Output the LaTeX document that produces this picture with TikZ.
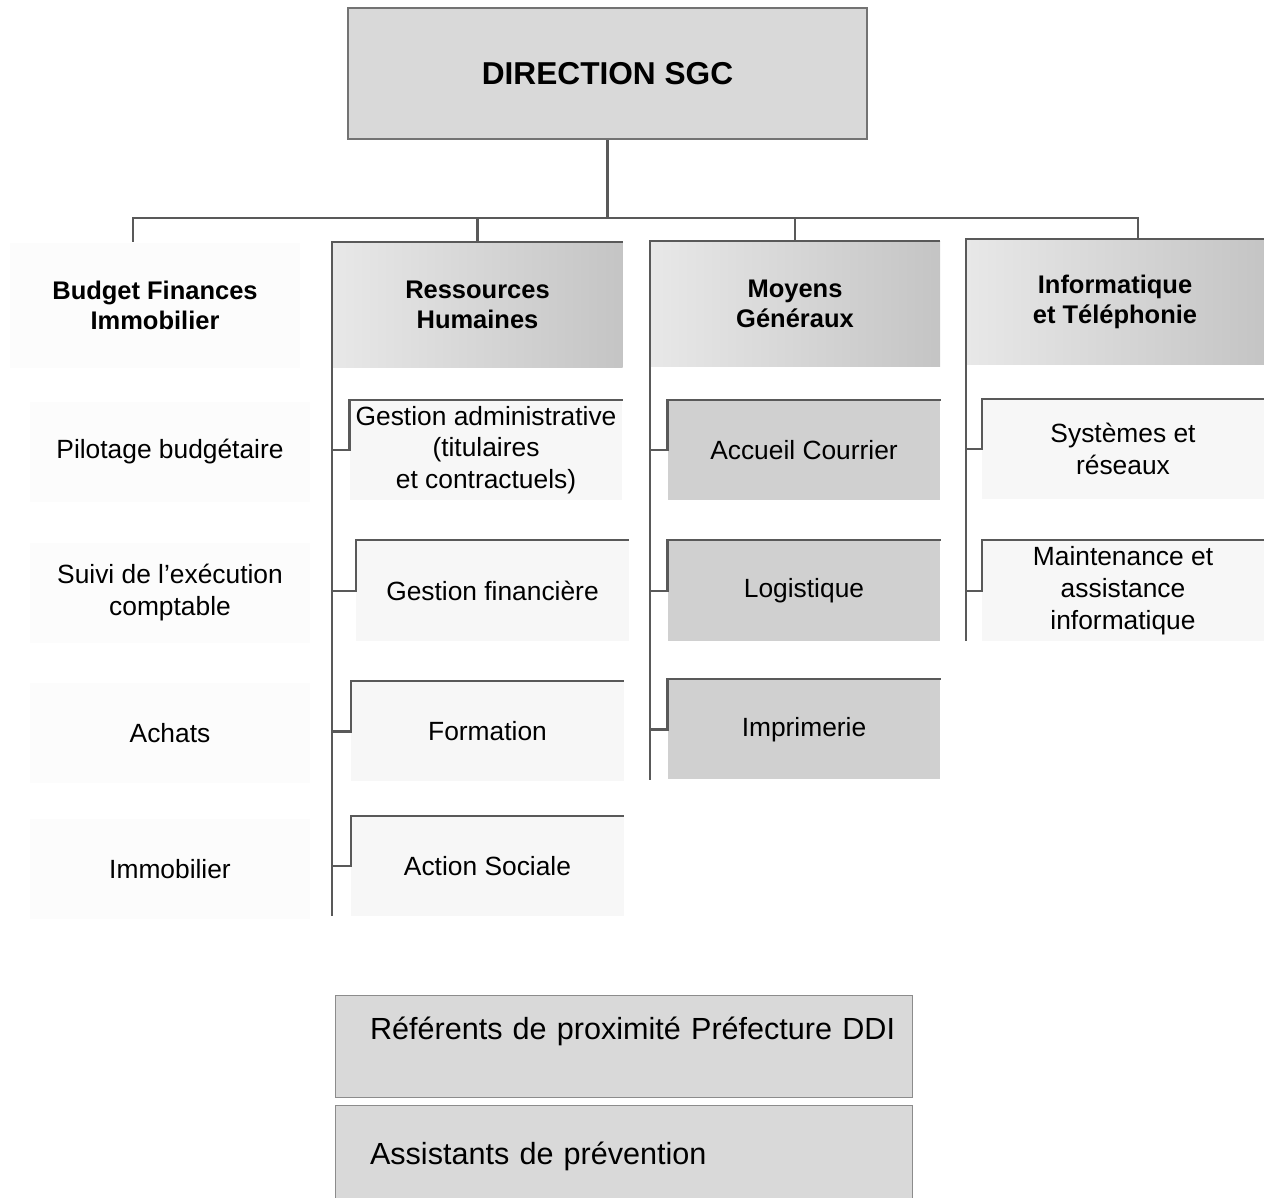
\documentclass[tikz,border=0pt]{standalone}
\usepackage{fontspec}
\setmainfont{Liberation Sans}
\usetikzlibrary{positioning}
\tikzset{
    chief/.style={rectangle, draw=black!55, line width=1.2pt, fill=gray!30, minimum width=10.38cm, minimum height=2.62cm, align=center, font=\bfseries\fontsize{18}{21}\selectfont},
    head/.style={rectangle, minimum width=5.8cm, minimum height=2.5cm, align=center, left color=gray!18, right color=gray!46, font=\bfseries\fontsize{14.5}{17}\selectfont},
    bare/.style={rectangle, minimum width=5.8cm, minimum height=2.5cm, align=center, fill=gray!2, font=\bfseries\fontsize{14.5}{17}\selectfont},
    task/.style={rectangle, minimum width=5.6cm, minimum height=2cm, align=center, fill=gray!2, font=\fontsize{15}{18}\selectfont},
    unit/.style={rectangle, minimum width=5.45cm, minimum height=2cm, align=center, fill=gray!6, font=\fontsize{15}{18}\selectfont},
    darkunit/.style={unit, fill=gray!37},
    note/.style={rectangle, draw=black!45, fill=gray!30, minimum width=11.54cm, minimum height=2.04cm, text width=10.14cm, inner xsep=0.7cm, align=left, font=\fontsize{17.4}{20}\selectfont},
    link/.style={draw=black!65, line width=1.3pt}
}
\begin{document}
\begin{tikzpicture}
    \useasboundingbox (0,0) rectangle (25.28,-23.96);

    \node (dir) [chief] at (12.15,-1.47) {DIRECTION SGC};

    % column heads
    \node (bfi) [bare] at (3.1,-6.1) {Budget Finances\\Immobilier};
    \node (rh) [head] at (9.55,-6.1) {Ressources\\Humaines};
    \node (mg) [head] at (15.9,-6.07) {Moyens\\Généraux};
    \node (it) [head, minimum width=5.96cm] at (22.3,-6.03) {Informatique\\et Téléphonie};

    \node (pb) [task] at (3.4,-9.04) {Pilotage budgétaire};
    \node (se) [task, below=0.8cm of pb] {Suivi de l’exécution\\comptable};
    \node (ach) [task, below=0.8cm of se] {Achats};
    \node (imm) [task, below=0.7cm of ach] {Immobilier};

    \node (ga) [unit] at (9.72,-9.0) {Gestion administrative\\(titulaires\\et contractuels)};
    \node (gf) [unit, below=0.8cm of ga, xshift=0.13cm] {Gestion financière};
    \node (fo) [unit, below=0.8cm of gf, xshift=-0.1cm] {Formation};
    \node (as) [unit, below=0.68cm of fo] {Action Sociale};

    \node (ac) [darkunit] at (16.08,-9.0) {Accueil Courrier};
    \node (lo) [darkunit, below=0.8cm of ac] {Logistique};
    \node (im) [darkunit, below=0.76cm of lo] {Imprimerie};

    \node (sr) [unit, minimum width=5.64cm] at (22.46,-8.98) {Systèmes et\\réseaux};
    \node (ma) [unit, minimum width=5.64cm, below=0.82cm of sr] {Maintenance et\\assistance\\informatique};

    \node (ref) [note, text height=0.5cm, text depth=0.78cm] at (12.47,-20.92) {\mbox{Référents de proximité Préfecture DDI}};
    \node (asp) [note, below=0.16cm of ref] {Assistants de prévention};

    % tree from the direction
    \draw [link] (dir.south) -- ++(0,-1.56) coordinate (hub);
    \draw [link] (hub) -| ([xshift=-0.44cm]bfi.north);
    \draw [link] (hub) -| (rh.north);
    \draw [link] (hub) -| (mg.north);
    \draw [link] (hub) -| ([xshift=0.46cm]it.north);

    % spines
    \draw [link] (rh.north east) -- (rh.north west) -- (rh.west |- as.south);
    \draw [link] (mg.north east) -- (mg.north west) -- (mg.west |- im.south);
    \draw [link] (it.north east) -- (it.north west) -- (it.west |- ma.south);

    \draw [link] (rh.west |- ga.west) -- (ga.west) |- (ga.north east);
    \draw [link] (rh.west |- gf.west) -- (gf.west) |- (gf.north east);
    \draw [link] (rh.west |- fo.west) -- (fo.west) |- (fo.north east);
    \draw [link] (rh.west |- as.west) -- (as.west) |- (as.north east);

    \draw [link] (mg.west |- ac.west) -- (ac.west) |- (ac.north east);
    \draw [link] (mg.west |- lo.west) -- (lo.west) |- (lo.north east);
    \draw [link] (mg.west |- im.west) -- (im.west) |- (im.north east);

    \draw [link] (it.west |- sr.west) -- (sr.west) |- (sr.north east);
    \draw [link] (it.west |- ma.west) -- (ma.west) |- (ma.north east);
\end{tikzpicture}
\end{document}
